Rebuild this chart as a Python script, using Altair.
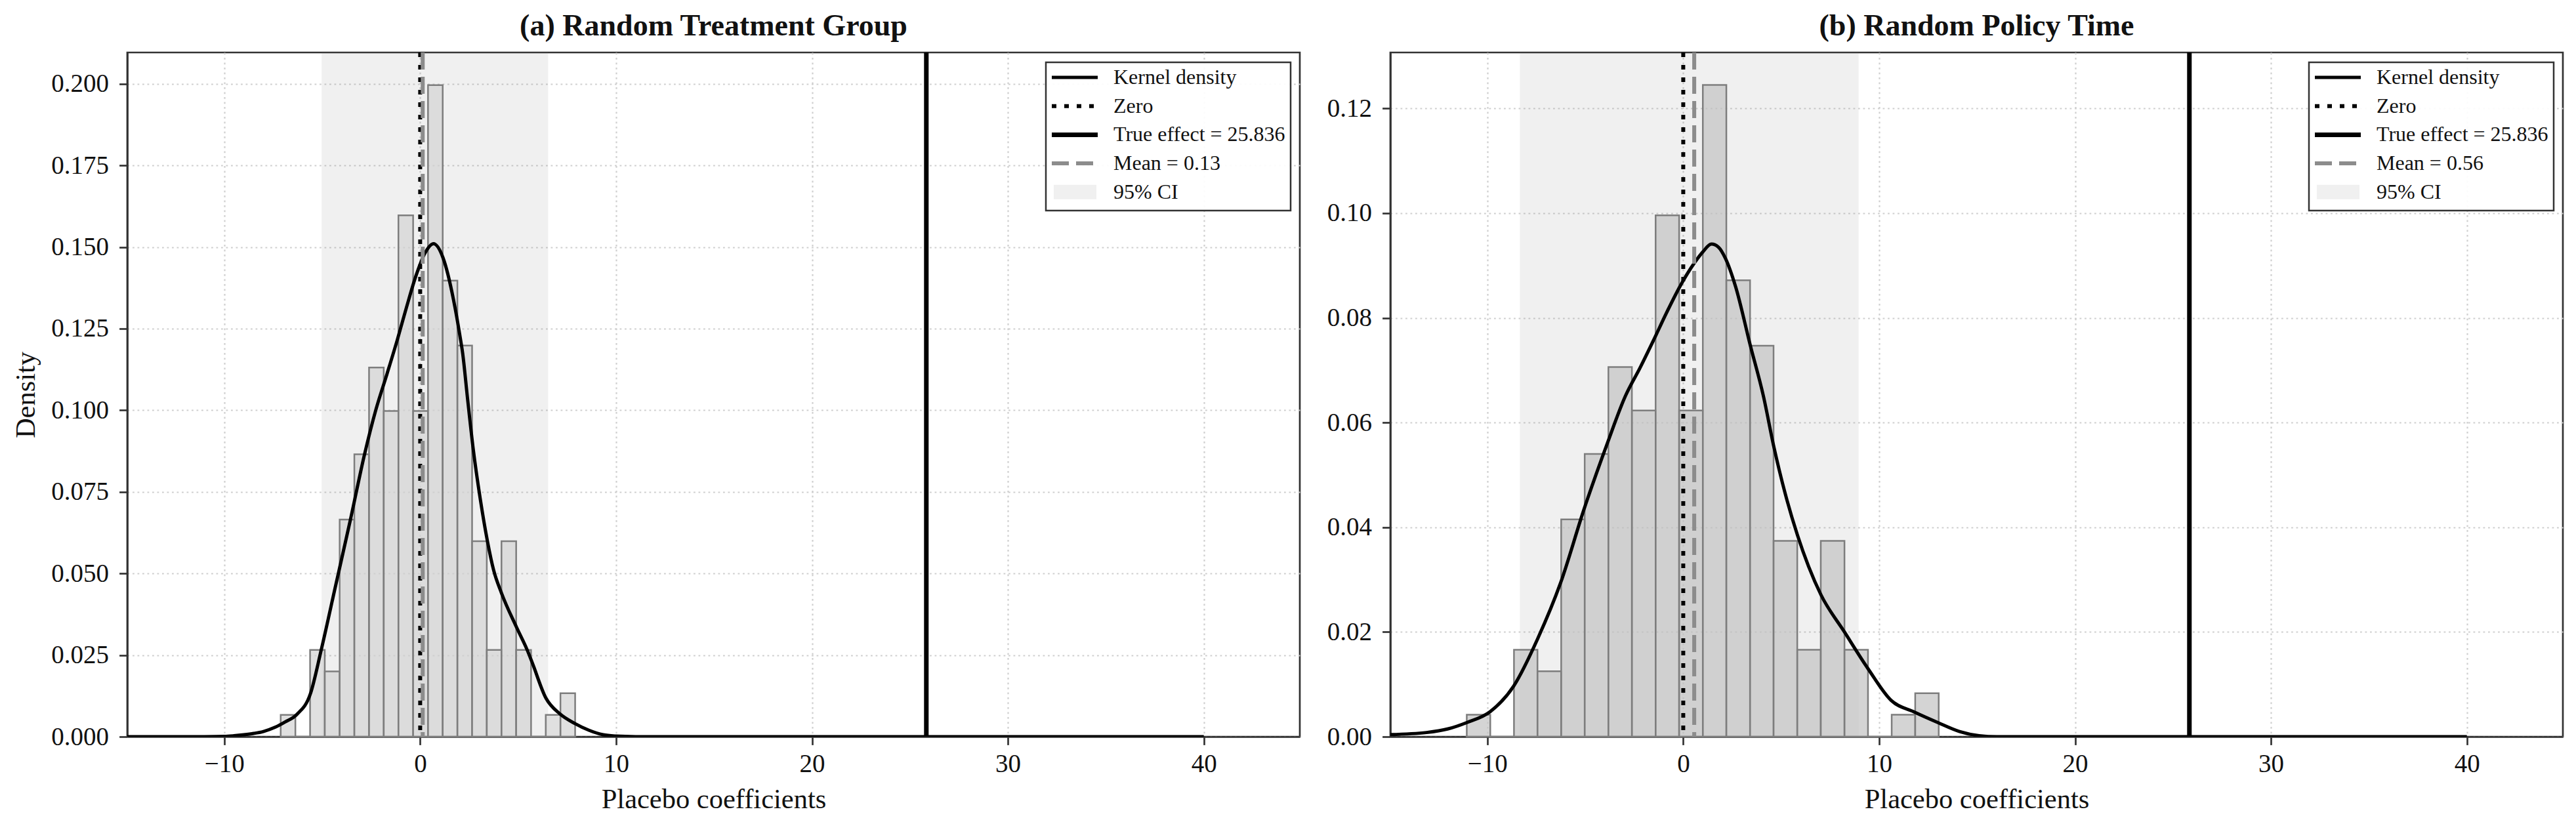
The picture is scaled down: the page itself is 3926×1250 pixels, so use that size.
import altair as alt
import pandas as pd

FONT = "Liberation Serif"
W, H = 1787, 1043
X_DOMAIN = [-14.95, 44.9]
X_TICKS = [-10, 0, 10, 20, 30, 40]
TRUE_EFFECT = 25.836

# ---- panel (a) Random Treatment Group ----
A_TITLE = "(a) Random Treatment Group"
A_EDGES = [-7.12, -6.37, -5.62, -4.87, -4.11, -3.36, -2.61, -1.86, -1.11, -0.36, 0.40,
           1.15, 1.90, 2.65, 3.40, 4.15, 4.90, 5.66, 6.41, 7.16, 7.91]
A_DENS = [0.0067, 0.0, 0.0266, 0.0200, 0.0665, 0.0865, 0.1131, 0.0998, 0.1597, 0.0998,
          0.1996, 0.1397, 0.1198, 0.0599, 0.0266, 0.0599, 0.0266, 0.0, 0.0067, 0.0133]
A_KDE_X = [-14.95, -12, -11, -10, -9.5, -9, -8.5, -8, -7.4, -6.9, -6.3, -5.6, -5.05, -4.3,
           -3.56, -2.84, -2.25, -1.7, -1.17, -0.7, -0.22, 0.26, 0.68, 1.16, 1.70, 2.04, 2.17,
           2.41, 2.71, 3.05, 3.43, 3.75, 4.15, 4.92, 5.46, 5.70, 6.42, 7.13, 7.91, 8.6, 9.34,
           10, 11, 12, 40]
A_KDE_Y = [0.0, 0.0, 0.00002, 0.0001, 0.0003, 0.0006, 0.0010, 0.0016, 0.0029, 0.0045,
           0.0068, 0.0132, 0.0266, 0.0467, 0.0665, 0.0865, 0.1004, 0.1110, 0.1215, 0.1315,
           0.1411, 0.1483, 0.1510, 0.1468, 0.1339, 0.1224, 0.1174, 0.1040, 0.0880, 0.0735,
           0.0600, 0.0510, 0.0440, 0.0335, 0.0266, 0.0230, 0.0118, 0.0070, 0.0040, 0.0020,
           0.0006, 0.0002, 0.00002, 0.0, 0.0]
A_MEAN = 0.13
A_CI = [-5.03, 6.53]
A_YMAX = 0.2096
A_YTICKS = [0.0, 0.025, 0.05, 0.075, 0.1, 0.125, 0.15, 0.175, 0.2]
A_LABELS = ["Kernel density", "Zero", "True effect = 25.836", "Mean = 0.13", "95% CI"]

# ---- panel (b) Random Policy Time ----
B_TITLE = "(b) Random Policy Time"
B_EDGES = [-11.05, -9.85, -8.64, -7.44, -6.23, -5.03, -3.82, -2.62, -1.41, -0.21, 1.00,
           2.20, 3.41, 4.61, 5.82, 7.02, 8.23, 9.43, 10.64, 11.84, 13.04]
B_DENS = [0.0042, 0.0, 0.0166, 0.0125, 0.0415, 0.0540, 0.0706, 0.0623, 0.0996, 0.0623,
          0.1245, 0.0872, 0.0747, 0.0374, 0.0166, 0.0374, 0.0166, 0.0, 0.0042, 0.0083]
B_KDE_X = [-14.95, -13.1, -12, -11.05, -9.85, -8.65, -7.42, -6.26, -5.06, -3.86, -2.95,
           -2.2, -1.52, -0.85, -0.17, 0.57, 1.0, 1.44, 1.8, 2.15, 2.67, 3.42, 4.09, 4.63,
           5.2, 5.83, 6.4, 7.03, 8.23, 9.43, 10.62, 11.8, 13.0, 14.1, 15.1, 16, 40]
B_KDE_Y = [0.0004, 0.0008, 0.0015, 0.0027, 0.0048, 0.0097, 0.0188, 0.0294, 0.0435, 0.0562,
           0.0651, 0.0705, 0.0757, 0.0810, 0.0860, 0.0905, 0.0926, 0.0941, 0.0935, 0.0914,
           0.0860, 0.0748, 0.0651, 0.0553, 0.0465, 0.0385, 0.0325, 0.0271, 0.0200, 0.0130,
           0.0069, 0.0047, 0.0027, 0.0010, 0.0002, 0.0, 0.0]
B_MEAN = 0.56
B_CI = [-8.34, 8.95]
B_YMAX = 0.1307
B_YTICKS = [0.0, 0.02, 0.04, 0.06, 0.08, 0.10, 0.12]
B_LABELS = ["Kernel density", "Zero", "True effect = 25.836", "Mean = 0.56", "95% CI"]

ONE = pd.DataFrame({"k": [0]})


def panel(edges, dens, kx, ky, mean, ci, ymax, yticks, yfmt, ytitle, title, bar_color, labels):
    xs = alt.Scale(domain=X_DOMAIN, nice=False, zero=False)
    ys = alt.Scale(domain=[0, ymax], nice=False, zero=False)
    xaxis = alt.Axis(values=X_TICKS, format="d", title="Placebo coefficients",
                     titleX=W / 2, titleY=108, titleAlign="center",
                     titleBaseline="alphabetic", labelPadding=10)
    yaxis = alt.Axis(values=yticks, format=yfmt, title=ytitle,
                     titleX=-142, titleY=H / 2, titleAngle=270, titleAlign="center",
                     titleBaseline="alphabetic", labelPadding=16)

    def X(f):
        return alt.X(f, scale=xs, axis=xaxis)

    def Y(f):
        return alt.Y(f, scale=ys, axis=yaxis)

    ci_df = pd.DataFrame({"lo": [ci[0]], "hi": [ci[1]]})
    band = alt.Chart(ci_df).mark_rect(fill="#808080", opacity=0.12).encode(
        x=X("lo:Q"), x2="hi:Q", y=alt.value(0), y2=alt.value(H))

    bars_df = pd.DataFrame({"lo": edges[:-1], "hi": edges[1:], "dens": dens})
    bars = alt.Chart(bars_df).mark_rect(
        fill=bar_color, fillOpacity=0.7, stroke="#7d7d7d", strokeWidth=2.5
    ).encode(x=X("lo:Q"), x2="hi:Q", y=Y("dens:Q"), y2=alt.datum(0))

    kde_df = pd.DataFrame({"x": kx, "y": ky})
    kde = alt.Chart(kde_df).mark_line(
        color="black", strokeWidth=5, interpolate="monotone", clip=True
    ).encode(x=X("x:Q"), y=Y("y:Q"))

    zero = alt.Chart(pd.DataFrame({"v": [0.0]})).mark_rule(
        color="black", strokeWidth=6, strokeDash=[7, 12]
    ).encode(x=X("v:Q"))

    true = alt.Chart(pd.DataFrame({"v": [TRUE_EFFECT]})).mark_rule(
        color="black", strokeWidth=7
    ).encode(x=X("v:Q"))

    mline = alt.Chart(pd.DataFrame({"v": [mean]})).mark_rule(
        color="#8c8c8c", strokeWidth=6, strokeDash=[26, 11]
    ).encode(x=X("v:Q"))

    # panel title as a text mark above the plot area
    ttl = alt.Chart(ONE).mark_text(
        align="center", baseline="alphabetic", font=FONT, fontSize=46,
        fontWeight="bold", color="#111111"
    ).encode(x=alt.value(W / 2), y=alt.value(-26), text=alt.value(title))

    # legend (drawn in pixel space of the plot area)
    bx0, bx1, by0, by1 = W - 387, W - 14, 15, 241
    rows = [38, 81.7, 125.4, 169.1, 212.8]
    sx0, sx1, tx = bx0 + 9, bx0 + 79, bx0 + 103
    frame = alt.Chart(ONE).mark_rect(
        fill="white", fillOpacity=0.92, stroke="#333333", strokeWidth=2.5
    ).encode(x=alt.value(bx0), x2=alt.value(bx1), y=alt.value(by0), y2=alt.value(by1))
    sym_styles = [
        dict(color="black", strokeWidth=5),
        dict(color="black", strokeWidth=6, strokeDash=[7, 12]),
        dict(color="black", strokeWidth=7),
        dict(color="#8c8c8c", strokeWidth=6, strokeDash=[26, 11]),
    ]
    leg = [frame]
    for r, st in zip(rows[:4], sym_styles):
        leg.append(alt.Chart(ONE).mark_rule(**st).encode(
            x=alt.value(sx0), x2=alt.value(sx1), y=alt.value(r)))
    leg.append(alt.Chart(ONE).mark_rect(fill="#808080", opacity=0.12).encode(
        x=alt.value(sx0 + 3), x2=alt.value(sx1 - 2),
        y=alt.value(rows[4] - 11), y2=alt.value(rows[4] + 11)))
    for r, lab in zip(rows, labels):
        leg.append(alt.Chart(ONE).mark_text(
            align="left", baseline="middle", font=FONT, fontSize=32, color="#111111"
        ).encode(x=alt.value(tx), y=alt.value(r), text=alt.value(lab)))

    return alt.layer(band, bars, kde, zero, true, mline, ttl, *leg).properties(
        width=W, height=H)


pa = panel(A_EDGES, A_DENS, A_KDE_X, A_KDE_Y, A_MEAN, A_CI, A_YMAX, A_YTICKS, ".3f",
           "Density", A_TITLE, "#d3d3d3", A_LABELS)
pb = panel(B_EDGES, B_DENS, B_KDE_X, B_KDE_Y, B_MEAN, B_CI, B_YMAX, B_YTICKS, ".2f",
           "", B_TITLE, "#c2c2c2", B_LABELS)

chart = alt.hconcat(pa, pb, spacing=138, bounds="flush").properties(
    padding={"left": 8, "top": 7, "right": 5, "bottom": 5}
).configure_view(
    stroke="#333333", strokeWidth=2.7
).configure_axis(
    domainColor="#333333", domainWidth=2.7, tickColor="#333333", tickWidth=2.7,
    tickSize=12.4, labelFont=FONT, labelFontSize=39, labelColor="#111111",
    titleFont=FONT, titleFontSize=42.5, titleFontWeight="normal", titleColor="#111111",
    grid=True, gridColor="#cfcfcf", gridDash=[2.8, 4.7], gridWidth=2.2,
    labelOverlap=False
)

chart.save("out.html", embed_options={"renderer": "svg", "actions": False})
